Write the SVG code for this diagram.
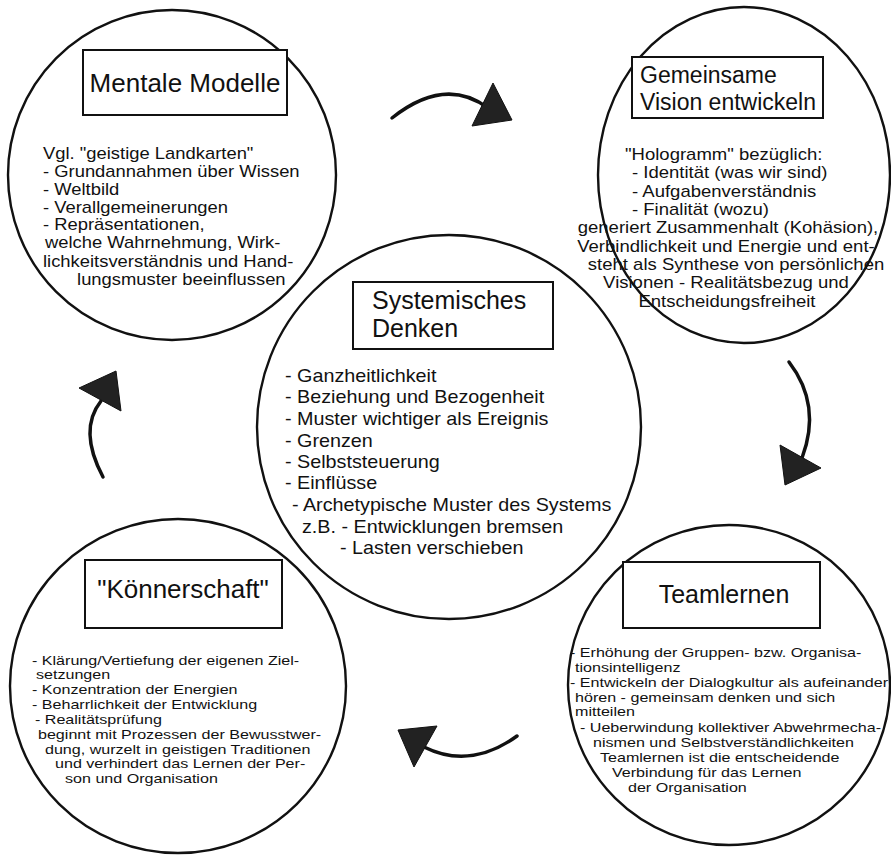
<svg xmlns="http://www.w3.org/2000/svg" width="891" height="855" viewBox="0 0 891 855">
<style>
.circ{fill:none;stroke:#111;stroke-width:2.4}
.box{fill:#fff;stroke:#111;stroke-width:2}
.title{font-family:"Liberation Sans",Arial,sans-serif;fill:#111}
.body{font-family:"Liberation Sans",Arial,sans-serif;fill:#111}
.arc{fill:none;stroke:#111;stroke-width:3.5;stroke-linecap:round}
.head{fill:#222;stroke:#111;stroke-width:1}
</style>
<rect width="891" height="855" fill="#fff"/>
<g id="node-mentale">
<ellipse class="circ" cx="172" cy="175" rx="164" ry="165"/>
<rect class="box" x="83" y="50" width="204" height="65"/>
<text class="title" x="185" y="92" font-size="26" text-anchor="middle">Mentale Modelle</text>
<g class="body" font-size="16" transform="translate(43,0) scale(1.15,1) translate(-43,0)">
<text x="43" y="159">Vgl. "geistige Landkarten"</text>
<text x="43" y="177">- Grundannahmen über Wissen</text>
<text x="43" y="195">- Weltbild</text>
<text x="43" y="213">- Verallgemeinerungen</text>
<text x="43" y="230">- Repräsentationen,</text>
<text x="44.7" y="248">welche Wahrnehmung, Wirk-</text>
<text x="43" y="267">lichkeitsverständnis und Hand-</text>
<text x="72.6" y="285">lungsmuster beeinflussen</text>
</g>
</g>
<g id="node-vision">
<ellipse class="circ" cx="744" cy="175" rx="146" ry="168"/>
<rect class="box" x="632" y="57" width="191" height="61"/>
<text class="title" x="640" y="83" font-size="23">Gemeinsame</text>
<text class="title" x="640" y="110" font-size="23">Vision entwickeln</text>
<g class="body" font-size="16.4" transform="translate(632,0) scale(1.13,1) translate(-632,0)">
<text x="625.8" y="160">"Hologramm" bezüglich:</text>
<text x="632" y="178">- Identität (was wir sind)</text>
<text x="632" y="197">- Aufgabenverständnis</text>
<text x="632" y="215">- Finalität (wozu)</text>
</g>
<g class="body" font-size="16.4" text-anchor="middle" transform="translate(728,0) scale(1.13,1) translate(-728,0)">
<text x="728" y="233">generiert Zusammenhalt (Kohäsion),</text>
<text x="726.2" y="252">Verbindlichkeit und Energie und ent-</text>
<text x="735.1" y="270">steht als Synthese von persönlichen</text>
<text x="726.2" y="288">Visionen - Realitätsbezug und</text>
<text x="727.1" y="307">Entscheidungsfreiheit</text>
</g>
</g>
<g id="node-systemisch">
<circle class="circ" cx="449" cy="427" r="192"/>
<rect class="box" x="353" y="282" width="200" height="67"/>
<text class="title" x="372" y="309" font-size="25">Systemisches</text>
<text class="title" x="372" y="337" font-size="25">Denken</text>
<g class="body" font-size="19" transform="translate(285,0) scale(1.04,1) translate(-285,0)">
<text x="285" y="382">- Ganzheitlichkeit</text>
<text x="285" y="403">- Beziehung und Bezogenheit</text>
<text x="285" y="425">- Muster wichtiger als Ereignis</text>
<text x="285" y="447">- Grenzen</text>
<text x="285" y="468">- Selbststeuerung</text>
<text x="285" y="489">- Einflüsse</text>
<text x="291.7" y="511">- Archetypische Muster des Systems</text>
<text x="301.3" y="533">z.B. - Entwicklungen bremsen</text>
<text x="337.9" y="554">- Lasten verschieben</text>
</g>
</g>
<g id="node-koennerschaft">
<ellipse class="circ" cx="178" cy="686" rx="168" ry="167"/>
<rect class="box" x="85" y="560" width="197" height="68"/>
<text class="title" x="183" y="598" font-size="26" text-anchor="middle">"Könnerschaft"</text>
<g class="body" font-size="13.4" transform="translate(32,0) scale(1.2,1) translate(-32,0)">
<text x="32" y="665">- Klärung/Vertiefung der eigenen Ziel-</text>
<text x="35.3" y="679">setzungen</text>
<text x="32" y="694">- Konzentration der Energien</text>
<text x="32" y="709">- Beharrlichkeit der Entwicklung</text>
<text x="34.5" y="724">- Realitätsprüfung</text>
<text x="37" y="739">beginnt mit Prozessen der Bewusstwer-</text>
<text x="42.8" y="754">dung, wurzelt in geistigen Traditionen</text>
<text x="51.2" y="768">und verhindert das Lernen der Per-</text>
<text x="59.5" y="783">son und Organisation</text>
</g>
</g>
<g id="node-teamlernen">
<ellipse class="circ" cx="729" cy="685" rx="161" ry="160"/>
<rect class="box" x="623" y="562" width="197" height="66"/>
<text class="title" x="724" y="603" font-size="25" text-anchor="middle">Teamlernen</text>
<g class="body" font-size="13.4" transform="translate(570,0) scale(1.2,1) translate(-570,0)">
<text x="570" y="657">- Erhöhung der Gruppen- bzw. Organisa-</text>
<text x="574.2" y="672">tionsintelligenz</text>
<text x="570" y="687">- Entwickeln der Dialogkultur als aufeinander</text>
<text x="574.2" y="702">hören - gemeinsam denken und sich</text>
<text x="574.2" y="716">mitteilen</text>
<text x="578.3" y="732">- Ueberwindung kollektiver Abwehrmecha-</text>
<text x="589.2" y="747">nismen und Selbstverständlichkeiten</text>
<text x="595" y="762">Teamlernen ist die entscheidende</text>
<text x="605" y="777">Verbindung für das Lernen</text>
<text x="618.3" y="792">der Organisation</text>
</g>
</g>
<g id="connectors">
<path class="arc" d="M392,118 Q445,76 488,108"/>
<polygon class="head" points="493,83 512,120 472,126"/>
<path class="arc" d="M789,362 Q822,405 802,458"/>
<polygon class="head" points="780,445 821,468 785,485"/>
<path class="arc" d="M517,736 Q470,770 424,747"/>
<polygon class="head" points="398,730 437,726 414,767"/>
<path class="arc" d="M103,477 Q78,430 101,401"/>
<polygon class="head" points="79,388 116,371 121,411"/>
</g>
</svg>
